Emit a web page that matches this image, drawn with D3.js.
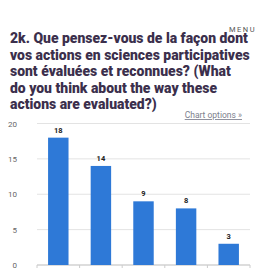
<!DOCTYPE html>
<html>
<head>
<meta charset="utf-8">
<script src="https://cdn.jsdelivr.net/npm/d3@7"></script>
<style>
  body { margin: 0; background: #fff; overflow: hidden; }
  svg { display: block; }
</style>
</head>
<body>
<div id="chart"></div>
<script>
const titleLines = [
  "2k. Que pensez-vous de la façon dont",
  "vos actions en sciences participatives",
  "sont évaluées et reconnues? (What",
  "do you think about the way these",
  "actions are evaluated?)"
]
const categories = ["a", "b", "c", "d", "e"]
const values = [18, 14, 9, 8, 3]
const yTicks = [0, 5, 10, 15, 20]

const width = 257
const height = 268

let svg = d3.select("#chart").append("svg")
            .attr("width", width)
            .attr("height", height)

// title, squeezed horizontally so the longest line fits like the original
var title = svg.append("g")

title.selectAll("text")
   .data(titleLines)
   .enter()
   .append("text")
   .attr("x", 0)
   .attr("y", (d, i) => 43.5 + i * 16.4)
   .attr("font-family", "Roboto, sans-serif")
   .attr("font-weight", 900)
   .attr("font-size", 14.5)
   .attr("fill", "#3b2f4c")
   .text(d => d)

var longest = d3.max(title.selectAll("text").nodes(), n => n.getComputedTextLength())
var sx = 240 / longest
title.attr("transform", "translate(10,0) scale(" + sx + ",1)")

svg.append("text")
   .attr("x", 229)
   .attr("y", 32)
   .attr("font-family", "Roboto, sans-serif")
   .attr("font-size", 7.5)
   .attr("letter-spacing", 1.5)
   .attr("fill", "#555")
   .text("MENU")

svg.append("text")
   .attr("x", 242)
   .attr("y", 118)
   .attr("text-anchor", "end")
   .attr("font-family", "Roboto, sans-serif")
   .attr("font-size", 8.5)
   .attr("fill", "#7d7f8e")
   .attr("text-decoration", "underline")
   .text("Chart options »")

// chart
var x = d3.scaleBand()
          .domain(categories)
          .range([37, 250])
          .paddingInner(0.52)
          .paddingOuter(0.26)

var y = d3.scaleLinear()
          .domain([0, 20])
          .range([265, 123.5])

svg.append("g")
   .selectAll("line")
   .data(yTicks)
   .enter()
   .append("line")
   .attr("x1", 37)
   .attr("x2", 250)
   .attr("y1", d => y(d))
   .attr("y2", d => y(d))
   .attr("stroke", d => d == 0 ? "#bbb" : "#e3e3e3")
   .attr("stroke-width", 1)

svg.append("g")
   .selectAll("text")
   .data(yTicks)
   .enter()
   .append("text")
   .attr("x", 17)
   .attr("y", d => y(d) + 3)
   .attr("text-anchor", "end")
   .attr("font-family", "Roboto, sans-serif")
   .attr("font-size", 8)
   .attr("fill", "#666")
   .text(d => d)

// ticks between categories
var tickX = categories.map(c => x(c) - x.step() * x.paddingInner() / 2).concat([250])
tickX[0] = 37
svg.append("g")
   .selectAll("line")
   .data(tickX)
   .enter()
   .append("line")
   .attr("x1", d => d)
   .attr("x2", d => d)
   .attr("y1", y(0))
   .attr("y2", y(0) + 5)
   .attr("stroke", "#ccc")

svg.append("g")
   .selectAll("rect")
   .data(values)
   .enter()
   .append("rect")
   .attr("x", (d, i) => x(categories[i]))
   .attr("y", d => y(d))
   .attr("width", x.bandwidth())
   .attr("height", d => y(0) - y(d))
   .attr("fill", "#2e79d7")

svg.append("g")
   .selectAll("text")
   .data(values)
   .enter()
   .append("text")
   .attr("x", (d, i) => x(categories[i]) + x.bandwidth() / 2)
   .attr("y", d => y(d) - 5)
   .attr("text-anchor", "middle")
   .attr("font-family", "Roboto, sans-serif")
   .attr("font-weight", "bold")
   .attr("font-size", 7.5)
   .attr("fill", "#222")
   .text(d => d)
</script>
</body>
</html>
